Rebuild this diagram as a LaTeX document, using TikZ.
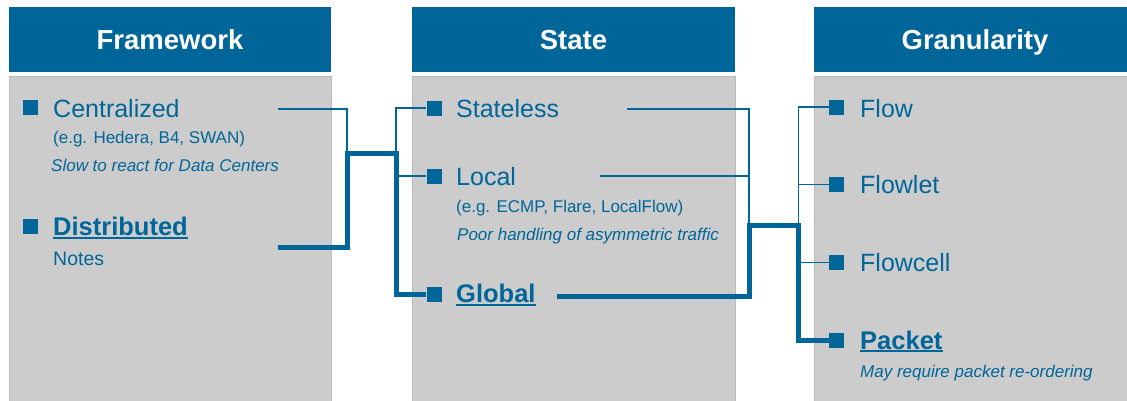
\documentclass[tikz,border=0pt]{standalone}
\usepackage{fontspec}
\setmainfont{Liberation Sans}
\definecolor{hblue}{HTML}{006699}
\definecolor{pgray}{HTML}{CCCCCC}
\definecolor{pedge}{HTML}{BBBBBB}
\begin{document}
\begin{tikzpicture}[x=1pt,y=-1pt,
  header/.style={fill=hblue,draw=none},
  panel/.style={fill=pgray,draw=pedge,line width=0.8pt},
  htext/.style={anchor=base,inner sep=0,text=white,font=\fontsize{27.5}{32}\selectfont\bfseries},
  item/.style={anchor=base west,inner sep=0,text=hblue,font=\fontsize{25}{30}\selectfont},
  bitem/.style={anchor=base west,inner sep=0,text=hblue,font=\fontsize{25.5}{30}\selectfont\bfseries},
  sub/.style={anchor=base west,inner sep=0,text=hblue,font=\fontsize{17}{20}\selectfont},
  note/.style={anchor=base west,inner sep=0,text=hblue,font=\fontsize{19.5}{23}\selectfont},
  isub/.style={anchor=base west,inner sep=0,text=hblue,font=\fontsize{17}{20}\selectfont\itshape},
  bul/.style={rectangle,fill=hblue,draw=none,minimum size=15pt,inner sep=0},
  thinc/.style={draw=hblue,line width=1.6pt},
  thickc/.style={draw=hblue,line width=5pt,line join=miter},
  ul/.style={draw=hblue,line width=1.6pt}]
\useasboundingbox (0,0) rectangle (1127,400);
% panels
\fill[white] (0,0) rectangle (1127,400);
\path[header] (9,7) rectangle (331,72);
\path[header] (412,7) rectangle (735,72);
\path[header] (814,7) rectangle (1136,72);
\path[panel] (9,76) rectangle (331,405);
\path[panel] (412,76) rectangle (735,405);
\path[panel] (814,76) rectangle (1136,405);
\node[htext] (hF) at (170,49) {Framework};
\node[htext] (hS) at (573.5,49) {State};
\node[htext] (hG) at (975,49) {Granularity};
% Framework
\node[bul] (bC) at (30.5,107) {};
\node[item] (nC) at (53,117) {Centralized};
\node[sub] (eC) at (53,143.5) {(e.g. Hedera, B4, SWAN)};
\node[isub] (iC) at (51,171.5) {Slow to react for Data Centers};
\node[bul] (bD) at (30.5,226) {};
\node[bitem] (nD) at (53,235.5) {Distributed};
\node[note] (eD) at (53,265) {Notes};
% State
\node[bul] (bS) at (434,108) {};
\node[item] (nS) at (456,117) {Stateless};
\node[bul] (bL) at (434,176) {};
\node[item] (nL) at (456,185) {Local};
\node[sub] (eL) at (456,212.5) {(e.g. ECMP, Flare, LocalFlow)};
\node[isub] (iL) at (457,240) {Poor handling of asymmetric traffic};
\node[bul] (bG) at (434,294.5) {};
\node[bitem] (nG) at (456,302.5) {Global};
% Granularity
\node[bul] (bF) at (836.5,107) {};
\node[item] (nF) at (860,117) {Flow};
\node[bul] (bFl) at (836.5,184.5) {};
\node[item] (nFl) at (860,193) {Flowlet};
\node[bul] (bFc) at (836.5,262.5) {};
\node[item] (nFc) at (860,271) {Flowcell};
\node[bul] (bP) at (836.5,340) {};
\node[bitem] (nP) at (860,349) {Packet};
\node[isub] (iP) at (860,377) {May require packet re-ordering};
% underlines
\draw[ul] ([yshift=-2.2pt]nD.base west) -- ([yshift=-2.2pt]nD.base east);
\draw[ul] ([yshift=-2.2pt]nG.base west) -- ([yshift=-2.2pt]nG.base east);
\draw[ul] ([yshift=-2.2pt]nP.base west) -- ([yshift=-2.2pt]nP.base east);
% connector coordinates
\coordinate (fC) at (278,109);
\coordinate (fD) at (278,247);
\coordinate (j1) at (347,153);
\coordinate (j2) at (396,153);
\coordinate (sS) at (627,109);
\coordinate (sL) at (600,176);
\coordinate (sG) at (557,296);
\coordinate (j3) at (749,225.5);
\coordinate (j4) at (798.5,225.5);
% thin connectors
\draw[thinc] (fC) -| (j1);
\draw[thinc] (bS.west) -| (j2);
\draw[thinc] (bL.west) -- (bL.west -| j2);
\draw[thinc] (sS) -| (j3);
\draw[thinc] (sL) -- (sL -| j3);
\draw[thinc] (bF.west) -| (j4);
\draw[thinc] (bFl.west) -- (bFl.west -| j4);
\draw[thinc] (bFc.west) -- (bFc.west -| j4);
% thick connectors
\draw[thickc] (fD) -| (j1) -- (j2) |- (bG.west);
\draw[thickc] (sG) -| (j3) -- (j4) |- (bP.west);
\end{tikzpicture}
\end{document}
